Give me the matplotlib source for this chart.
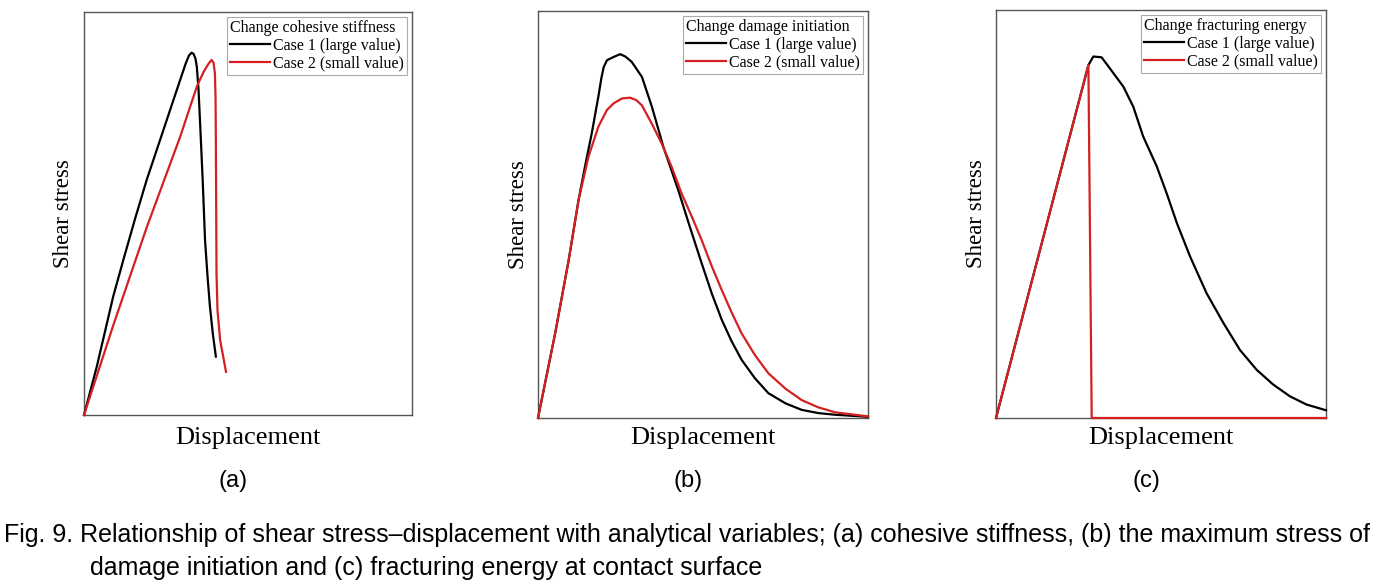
import matplotlib.pyplot as plt

# (a) cohesive stiffness
a_x1 = [0, 0.039, 0.089, 0.120, 0.155, 0.191, 0.242, 0.293, 0.31, 0.32, 0.328, 0.334, 0.34, 0.344,
        0.349, 0.354, 0.362, 0.369, 0.377, 0.384, 0.393, 0.402]
a_y1 = [0, 0.12, 0.294, 0.385, 0.485, 0.583, 0.707, 0.831, 0.872, 0.892, 0.899, 0.896, 0.884, 0.864,
        0.81, 0.724, 0.58, 0.434, 0.34, 0.269, 0.20, 0.145]
a_x2 = [0, 0.089, 0.191, 0.293, 0.344, 0.365, 0.38, 0.389, 0.395, 0.399, 0.401, 0.402, 0.404, 0.407,
        0.415, 0.433]
a_y2 = [0, 0.222, 0.465, 0.690, 0.815, 0.852, 0.872, 0.881, 0.874, 0.848, 0.79, 0.682, 0.352, 0.26,
        0.186, 0.107]

# (b) damage initiation
b_x1 = [0, 0.052, 0.093, 0.123, 0.143, 0.163, 0.183, 0.192, 0.199, 0.209, 0.229, 0.249, 0.265, 0.284,
        0.315, 0.345, 0.380, 0.425, 0.46, 0.496, 0.527, 0.557, 0.587, 0.617, 0.657, 0.698, 0.75, 0.799,
        0.85, 0.90, 1.0]
b_y1 = [0, 0.208, 0.388, 0.536, 0.62, 0.70, 0.79, 0.835, 0.862, 0.879, 0.887, 0.894, 0.888, 0.875,
        0.838, 0.765, 0.666, 0.560, 0.47, 0.380, 0.305, 0.241, 0.188, 0.143, 0.098, 0.061, 0.036, 0.020,
        0.012, 0.008, 0.003]
b_x2 = [0, 0.052, 0.093, 0.123, 0.153, 0.183, 0.209, 0.229, 0.254, 0.279, 0.298, 0.315, 0.345, 0.375,
        0.405, 0.435, 0.466, 0.496, 0.527, 0.557, 0.587, 0.617, 0.657, 0.698, 0.75, 0.799, 0.85, 0.90, 1.0]
b_y2 = [0, 0.208, 0.388, 0.536, 0.642, 0.716, 0.757, 0.773, 0.785, 0.787, 0.781, 0.768, 0.723, 0.674,
        0.617, 0.552, 0.495, 0.437, 0.372, 0.314, 0.259, 0.208, 0.155, 0.110, 0.072, 0.044, 0.026, 0.014,
        0.004]

# (c) fracturing energy
c_x1 = [0, 0.280, 0.295, 0.320, 0.345, 0.386, 0.416, 0.446, 0.487, 0.517, 0.548, 0.588, 0.638, 0.689,
        0.739, 0.790, 0.840, 0.891, 0.941, 1.0]
c_y1 = [0, 0.865, 0.886, 0.884, 0.857, 0.812, 0.763, 0.690, 0.617, 0.551, 0.478, 0.396, 0.306, 0.233,
        0.167, 0.118, 0.082, 0.053, 0.033, 0.019]
c_x2 = [0, 0.280, 0.290, 1.0]
c_y2 = [0, 0.865, 0.0, 0.0]

titulos = ["Change cohesive stiffness", "Change damage initiation", "Change fracturing energy"]
casos = ["Case 1 (large value)", "Case 2 (small value)"]
letras = ["(a)", "(b)", "(c)"]
datos = [(a_x1, a_y1, a_x2, a_y2), (b_x1, b_y1, b_x2, b_y2), (c_x1, c_y1, c_x2, c_y2)]

W, H = 1388, 584
# posiciones de los ejes en pixeles: izquierda, arriba, derecha, abajo
cajas = [(84, 12, 412, 415), (538, 11, 868, 418), (996, 10, 1326, 418)]

serif = ['Liberation Serif', 'DejaVu Serif']
sans = ['Liberation Sans', 'DejaVu Sans']

fig = plt.figure(figsize=(W / 100, H / 100), dpi=100)
rojo = '#d42020'

for i in range(3):
    l, t, r, b = cajas[i]
    ax = fig.add_axes([l / W, 1 - b / H, (r - l) / W, (b - t) / H])
    x1, y1, x2, y2 = datos[i]
    ax.plot(x1, y1, color='black', lw=1.6, label=casos[0], clip_on=False, zorder=3)
    ax.plot(x2, y2, color=rojo, lw=1.6, label=casos[1], clip_on=False, zorder=4)
    ax.set_xlim(0, 1)
    ax.set_ylim(0, 1)
    ax.set_xticks([])
    ax.set_yticks([])
    for s in ax.spines.values():
        s.set_color('#555555')
        s.set_linewidth(1.0)
    leg = ax.legend(title=titulos[i], loc='upper right', bbox_to_anchor=(1, 1),
                    borderaxespad=0.3, fancybox=False, framealpha=1, edgecolor='#aaaaaa',
                    prop={'family': serif, 'size': 11.5}, title_fontproperties={'family': serif, 'size': 11.5},
                    borderpad=0.2, labelspacing=0.12, handletextpad=0.2, handlelength=2.5)
    leg._legend_box.align = 'left'
    leg.get_frame().set_linewidth(0.8)
    cx = (l + r) / 2
    fig.text(cx / W, 1 - 438 / H, "Displacement", ha='center', va='center', family=serif, fontsize=19)
    fig.text((l - 20) / W, 1 - ((t + b) / 2) / H, "Shear stress", ha='center', va='center',
             rotation=90, family=serif, fontsize=16.5)
    fig.text((cx - 15) / W, 1 - 481 / H, letras[i], ha='center', va='center', family=sans, fontsize=17)

fig.text(4 / W, 1 - 535 / H,
         "Fig. 9. Relationship of shear stress\u2013displacement with analytical variables; (a) cohesive stiffness, (b) the maximum stress of",
         ha='left', va='center', family=sans, fontsize=18)
fig.text(90 / W, 1 - 568 / H, "damage initiation and (c) fracturing energy at contact surface",
         ha='left', va='center', family=sans, fontsize=18)

plt.savefig("out.png", dpi=100)
